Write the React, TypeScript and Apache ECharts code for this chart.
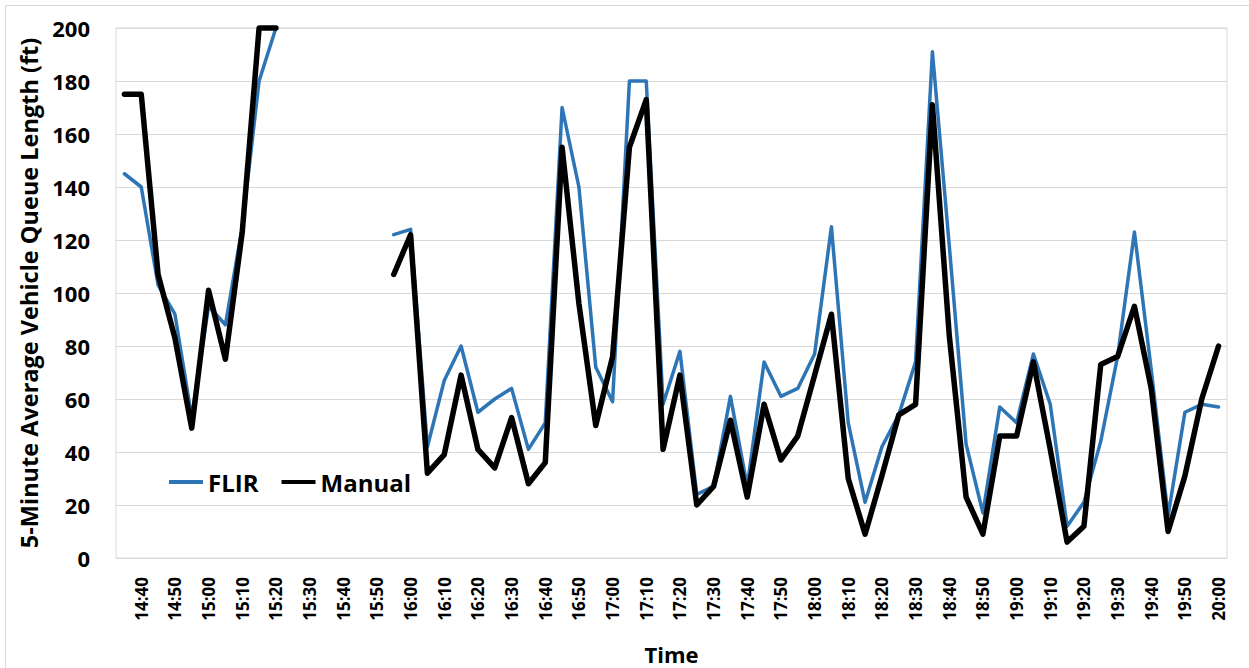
import React, { useEffect, useRef } from "react";
import * as echarts from "echarts";

const times: string[] = [
  "14:35","14:40","14:45","14:50","14:55","15:00","15:05","15:10","15:15","15:20",
  "15:25","15:30","15:35","15:40","15:45","15:50","15:55","16:00","16:05","16:10",
  "16:15","16:20","16:25","16:30","16:35","16:40","16:45","16:50","16:55","17:00",
  "17:05","17:10","17:15","17:20","17:25","17:30","17:35","17:40","17:45","17:50",
  "17:55","18:00","18:05","18:10","18:15","18:20","18:25","18:30","18:35","18:40",
  "18:45","18:50","18:55","19:00","19:05","19:10","19:15","19:20","19:25","19:30",
  "19:35","19:40","19:45","19:50","19:55","20:00",
];

const flir: (number | null)[] = [
  145, 140, 103, 92, 53, 95, 88, 125, 180, 200,
  null, null, null, null, null, null, 122, 124, 42, 67,
  80, 55, 60, 64, 41, 51, 170, 140, 72, 59,
  180, 180, 58, 78, 24, 27, 61, 27, 74, 61,
  64, 77, 125, 51, 21, 42, 54, 74, 191, 118,
  43, 17, 57, 51, 77, 58, 12, 21, 44, 76,
  123, 71, 16, 55, 58, 57,
];

const manual: (number | null)[] = [
  175, 175, 107, 83, 49, 101, 75, 123, 200, 200,
  null, null, null, null, null, null, 107, 122, 32, 39,
  69, 41, 34, 53, 28, 36, 155, 96, 50, 76,
  155, 173, 41, 69, 20, 27, 52, 23, 58, 37,
  46, 69, 92, 30, 9, 31, 54, 58, 171, 84,
  23, 9, 46, 46, 74, 41, 6, 12, 73, 76,
  95, 64, 10, 31, 60, 80,
];

const seriesNames = ["FLIR", "Manual"];
const seriesColors = ["#2e75b6", "#000000"];

const yMin = 0;
const yMax = 200;
const yStep = 20;

const FONT = "'Open Sans', 'Noto Sans', sans-serif";

export default function App() {
  const ref = useRef<HTMLDivElement>(null);

  useEffect(() => {
    if (!ref.current) return;
    const chart = echarts.init(ref.current, null, { renderer: "svg" });
    chart.setOption({
      animation: false,
      backgroundColor: "#ffffff",
      textStyle: { fontFamily: FONT },
      graphic: [
        {
          type: "rect",
          silent: true,
          z: -10,
          shape: { x: 5.5, y: 5.5, width: 1300, height: 700 },
          style: { fill: "none", stroke: "#d9d9d9", lineWidth: 1 },
        },
      ],
      grid: {
        left: 116,
        right: 22,
        top: 28,
        bottom: 110,
        show: true,
        borderColor: "#d9d9d9",
        borderWidth: 1,
        containLabel: false,
        outerBoundsMode: "none",
      },
      legend: {
        left: 164,
        top: 465,
        itemWidth: 34,
        itemHeight: 4,
        itemGap: 23,
        data: [
          { name: seriesNames[0], icon: "rect", itemStyle: { color: seriesColors[0] } },
          { name: seriesNames[1], icon: "rect", itemStyle: { color: seriesColors[1] } },
        ],
        textStyle: { fontFamily: FONT, fontSize: 24, fontWeight: "bold", color: "#000" },
      },
      xAxis: {
        type: "category",
        data: times,
        boundaryGap: true,
        name: "Time",
        nameLocation: "middle",
        nameGap: 85,
        nameTextStyle: { fontFamily: FONT, fontSize: 22, fontWeight: "bold", color: "#000" },
        axisLine: { show: true, lineStyle: { color: "#d9d9d9", width: 1 } },
        axisTick: { show: false },
        axisLabel: {
          rotate: 90,
          margin: 19,
          interval: (index: number) => index % 2 === 1,
          fontFamily: FONT,
          fontSize: 17,
          fontWeight: "bold",
          color: "#000",
        },
        splitLine: { show: false },
      },
      yAxis: {
        type: "value",
        min: yMin,
        max: yMax,
        interval: yStep,
        name: "5-Minute Average Vehicle Queue Length (ft)",
        nameLocation: "middle",
        nameGap: 74,
        nameTextStyle: { fontFamily: FONT, fontSize: 23.5, fontWeight: "bold", color: "#000" },
        axisLine: { show: false },
        axisTick: { show: false },
        axisLabel: {
          margin: 26,
          fontFamily: FONT,
          fontSize: 22,
          fontWeight: "bold",
          color: "#000",
        },
        splitLine: { show: true, lineStyle: { color: "#d9d9d9", width: 1 } },
      },
      series: [
        {
          name: seriesNames[0],
          type: "line",
          data: flir,
          showSymbol: false,
          symbol: "none",
          clip: false,
          connectNulls: false,
          color: seriesColors[0],
          lineStyle: { color: seriesColors[0], width: 3.5, join: "round", cap: "round" },
          z: 2,
        },
        {
          name: seriesNames[1],
          type: "line",
          data: manual,
          showSymbol: false,
          symbol: "none",
          clip: false,
          connectNulls: false,
          color: seriesColors[1],
          lineStyle: { color: seriesColors[1], width: 5.5, join: "round", cap: "round" },
          z: 3,
        },
      ],
    });
    return () => chart.dispose();
  }, []);

  return (
    <div
      ref={ref}
      style={{ position: "absolute", left: 0, top: 0, width: 1249, height: 668 }}
    />
  );
}
